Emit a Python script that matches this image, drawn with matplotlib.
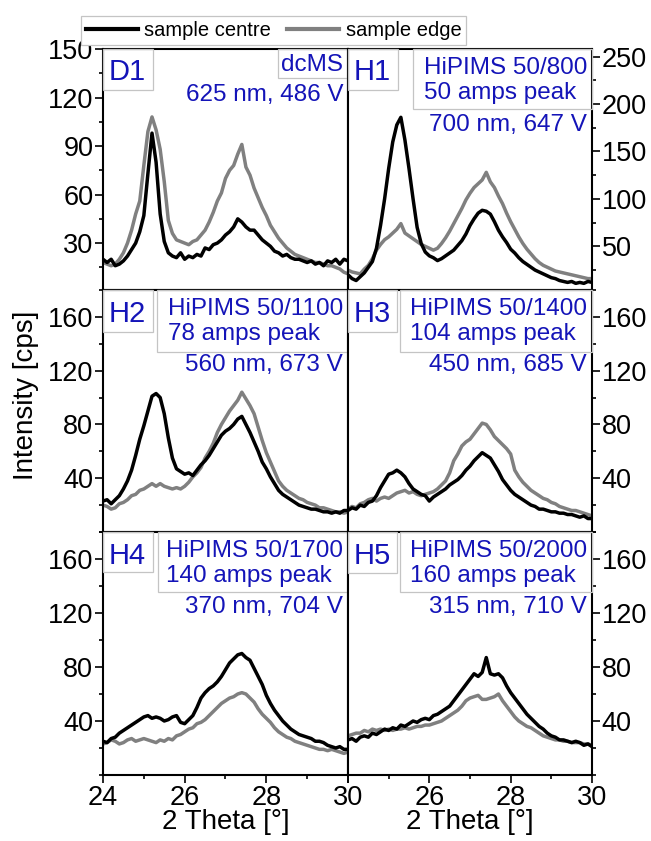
import matplotlib
matplotlib.use("Agg")
import matplotlib.pyplot as plt
from matplotlib.patches import Rectangle
from matplotlib.ticker import MultipleLocator, FixedLocator
import numpy as np

plt.rcParams['font.family'] = ['Liberation Sans', 'DejaVu Sans']

# ---------------- data ----------------
two_theta = np.round(np.arange(24.0, 30.0001, 0.1), 2)

d1_centre = [20, 18, 20, 16, 17, 19, 22, 26, 30, 37, 47, 73, 98, 80, 48, 31, 24, 22, 21, 24,
             20, 22, 21, 23, 22, 27, 26, 29, 30, 32, 35, 37, 40, 45, 43, 40, 38, 38, 35, 32,
             30, 28, 25, 24, 22, 23, 21, 20, 20, 19, 18, 19, 17, 18, 16, 19, 18, 20, 17, 20, 19]
d1_edge = [18, 17, 16, 17, 20, 24, 30, 38, 48, 56, 78, 99, 108, 100, 88, 68, 44, 36, 32, 31,
           30, 29, 31, 32, 35, 38, 43, 49, 56, 61, 70, 75, 78, 85, 91, 77, 72, 64, 58, 52,
           47, 41, 37, 33, 30, 27, 25, 23, 22, 21, 20, 19, 18, 18, 17, 16, 16, 15, 14, 12, 11]

h1_centre = [20, 16, 14, 18, 22, 28, 34, 48, 72, 100, 132, 160, 178, 186, 162, 132, 100, 70, 53, 44,
             40, 38, 35, 37, 40, 43, 46, 51, 56, 63, 72, 79, 85, 88, 87, 84, 76, 67, 60, 54,
             47, 43, 38, 34, 31, 28, 25, 23, 21, 19, 17, 16, 14, 13, 12, 13, 11, 12, 11, 13, 12]
h1_edge = [25, 23, 22, 21, 26, 30, 37, 46, 52, 57, 60, 64, 68, 74, 64, 61, 58, 55, 52, 50,
           48, 46, 48, 53, 59, 66, 74, 82, 90, 99, 106, 112, 116, 120, 128, 118, 112, 103, 95, 85,
           76, 68, 60, 53, 47, 42, 37, 33, 30, 28, 26, 24, 23, 22, 21, 20, 19, 18, 17, 16, 16]

h2_centre = [23, 24, 21, 24, 27, 32, 38, 46, 57, 69, 79, 90, 101, 103, 100, 88, 70, 55, 47, 45,
             43, 44, 42, 46, 50, 53, 57, 62, 67, 72, 75, 77, 80, 84, 86, 80, 74, 67, 60, 52,
             47, 41, 36, 31, 28, 26, 24, 22, 20, 19, 18, 17, 17, 16, 15, 15, 14, 15, 14, 16, 16]
h2_edge = [20, 19, 17, 18, 21, 22, 24, 27, 28, 31, 32, 34, 36, 34, 36, 34, 33, 32, 33, 32,
           34, 37, 41, 44, 48, 55, 60, 66, 74, 80, 85, 90, 94, 98, 104, 99, 94, 88, 78, 68,
           59, 52, 45, 38, 34, 31, 29, 27, 25, 24, 22, 21, 20, 18, 18, 17, 16, 15, 15, 14, 15]

h3_centre = [16, 18, 17, 20, 19, 22, 23, 27, 33, 38, 43, 44, 46, 44, 41, 36, 32, 30, 28, 27,
             23, 26, 28, 30, 32, 35, 37, 39, 42, 46, 49, 53, 56, 59, 57, 55, 50, 45, 39, 35,
             31, 28, 26, 24, 22, 20, 19, 17, 17, 16, 15, 15, 14, 14, 13, 13, 12, 11, 12, 10, 10]
h3_edge = [17, 19, 18, 21, 22, 24, 25, 23, 25, 26, 25, 27, 29, 30, 31, 29, 30, 28, 27, 28,
           29, 30, 32, 35, 38, 44, 53, 58, 64, 67, 69, 73, 77, 81, 80, 76, 71, 68, 65, 62,
           58, 46, 41, 37, 34, 31, 29, 27, 25, 24, 22, 21, 19, 18, 17, 16, 16, 15, 14, 13, 12]

h4_centre = [25, 24, 27, 28, 31, 33, 35, 37, 39, 41, 43, 44, 42, 43, 42, 40, 41, 43, 44, 39,
             38, 41, 44, 50, 57, 61, 64, 66, 69, 73, 78, 83, 86, 89, 90, 87, 85, 79, 73, 67,
             59, 53, 48, 44, 40, 37, 34, 32, 30, 29, 28, 27, 25, 25, 24, 22, 21, 20, 21, 19, 19]
h4_edge = [23, 24, 26, 25, 23, 24, 26, 27, 25, 26, 27, 26, 25, 24, 26, 25, 27, 26, 29, 30,
           32, 34, 35, 38, 39, 41, 44, 47, 50, 53, 55, 57, 58, 60, 61, 60, 57, 54, 49, 45,
           42, 39, 35, 32, 30, 28, 27, 25, 24, 23, 22, 21, 20, 19, 19, 18, 19, 18, 17, 16, 17]

h5_centre = [26, 27, 25, 28, 29, 28, 31, 30, 32, 34, 33, 35, 34, 37, 36, 38, 40, 39, 41, 42,
             41, 44, 45, 47, 49, 51, 55, 59, 63, 67, 71, 75, 73, 76, 87, 75, 74, 75, 72, 66,
             61, 57, 53, 49, 45, 42, 39, 36, 34, 31, 29, 28, 26, 26, 25, 24, 25, 24, 22, 23, 21]
h5_edge = [29, 30, 31, 31, 33, 32, 34, 33, 34, 33, 34, 33, 34, 34, 35, 34, 35, 36, 36, 37,
           37, 38, 39, 40, 42, 44, 46, 48, 51, 55, 57, 58, 59, 56, 56, 57, 58, 60, 55, 51,
           47, 43, 40, 38, 36, 35, 33, 31, 29, 28, 27, 26, 26, 25, 25, 24, 24, 24, 23, 23, 22]

panel_ids = ["D1", "H1", "H2", "H3", "H4", "H5"]
boxed_text = ["dcMS", "HiPIMS 50/800\n50 amps peak", "HiPIMS 50/1100\n78 amps peak",
              "HiPIMS 50/1400\n104 amps peak", "HiPIMS 50/1700\n140 amps peak",
              "HiPIMS 50/2000\n160 amps peak"]
extra_text = ["625 nm, 486 V", "700 nm, 647 V", "560 nm, 673 V", "450 nm, 685 V",
              "370 nm, 704 V", "315 nm, 710 V"]
centre_series = [d1_centre, h1_centre, h2_centre, h3_centre, h4_centre, h5_centre]
edge_series = [d1_edge, h1_edge, h2_edge, h3_edge, h4_edge, h5_edge]
y_limits = [(1, 150), (4, 258), (0, 180), (0, 180), (0, 180), (0, 180)]
y_major = [[30, 60, 90, 120, 150], [50, 100, 150, 200, 250], [40, 80, 120, 160],
           [40, 80, 120, 160], [40, 80, 120, 160], [40, 80, 120, 160]]
y_minor = [15, 25, 20, 20, 20, 20]
legend_labels = ["sample centre", "sample edge"]

# ---------------- layout ----------------
W, H = 651, 841
fig = plt.figure(figsize=(W / 100, H / 100), dpi=100)

col_x = [(103, 348), (348, 592)]
row_y = [(49, 290), (290, 532), (532, 775)]

BLUE = "#1414b8"
BOXC = "#c4c4c4"
GREY = "#808080"

lab_box_r = [152.5, 398, 152.5, 396.5, 152.5, 396.5]
lab_box_b = [90, 90, 331.5, 331.5, 572, 572.5]
txt_box_l = [277.5, 412.5, 156.5, 400, 157.5, 400]
txt_box_b = [78, 109, 351.5, 351.5, 591.5, 591.5]

axes = []
for i in range(6):
    r, c = divmod(i, 2)
    x0, x1 = col_x[c]
    y0, y1 = row_y[r]
    ax = fig.add_axes([x0 / W, 1 - y1 / H, (x1 - x0) / W, (y1 - y0) / H])
    axes.append(ax)
    ax.plot(two_theta, centre_series[i], color="black", lw=2.5, zorder=3,
            label=legend_labels[0])
    ax.plot(two_theta, edge_series[i], color=GREY, lw=2.5, zorder=2,
            label=legend_labels[1])
    ax.set_xlim(24, 30)
    ax.set_ylim(*y_limits[i])
    ax.yaxis.set_major_locator(FixedLocator(y_major[i]))
    ax.yaxis.set_minor_locator(MultipleLocator(y_minor[i]))
    ax.xaxis.set_major_locator(MultipleLocator(2))
    ax.xaxis.set_minor_locator(MultipleLocator(1))
    for s in ax.spines.values():
        s.set_linewidth(1.5)
    if c == 0:
        ax.tick_params(axis='y', which='both', left=True, right=False, labelleft=True,
                       labelright=False, direction='out')
    else:
        ax.tick_params(axis='y', which='both', left=False, right=True, labelleft=False,
                       labelright=True, direction='out')
    ax.tick_params(axis='y', which='major', length=5.5, width=1.2, labelsize=19.5, pad=1.5)
    ax.tick_params(axis='y', which='minor', length=3, width=1.2)
    if r == 2:
        ax.tick_params(axis='x', which='both', bottom=True, top=False, labelbottom=True,
                       direction='out')
        ax.tick_params(axis='x', which='major', length=5.5, width=1.2, labelsize=19.5, pad=1.5)
        ax.tick_params(axis='x', which='minor', length=3, width=1.2)
        if c == 1:
            ax.set_xticks([24, 26, 28, 30])
            ax.set_xticklabels(["", "26", "28", "30"])
    else:
        ax.tick_params(axis='x', which='both', bottom=False, top=False, labelbottom=False)

    pw = x1 - x0
    ph = y1 - y0
    ax.add_patch(Rectangle((0, 1 - (lab_box_b[i] - y0) / ph), (lab_box_r[i] - x0) / pw,
                           (lab_box_b[i] - y0) / ph, transform=ax.transAxes,
                           fill=False, edgecolor=BOXC, lw=0.9, zorder=5, clip_on=False))
    ax.text(5.5 / pw, 1 - 23.5 / ph, panel_ids[i], transform=ax.transAxes, color=BLUE,
            fontsize=21, ha='left', va='center', zorder=6)
    ax.add_patch(Rectangle(((txt_box_l[i] - x0) / pw, 1 - (txt_box_b[i] - y0) / ph),
                           1 - (txt_box_l[i] - x0) / pw, (txt_box_b[i] - y0) / ph,
                           transform=ax.transAxes, fill=False, edgecolor=BOXC, lw=0.9,
                           zorder=5, clip_on=False))
    xr = 1 - 5 / pw
    if i == 0:
        ax.text(xr, 1 - 16 / ph, boxed_text[i], transform=ax.transAxes, color=BLUE,
                fontsize=17.5, ha='right', va='center', zorder=6)
        ax.text(xr, 1 - 45.5 / ph, extra_text[i], transform=ax.transAxes, color=BLUE,
                fontsize=17.5, ha='right', va='center', zorder=6)
    else:
        ax.text(xr, 1 - 31.5 / ph, boxed_text[i], transform=ax.transAxes, color=BLUE,
                fontsize=17.5, ha='right', va='center', multialignment='left',
                linespacing=1.2, zorder=6)
        ax.text(xr, 1 - 75.5 / ph, extra_text[i], transform=ax.transAxes, color=BLUE,
                fontsize=17.5, ha='right', va='center', zorder=6)

fig.text(26 / W, 1 - 395 / H, "Intensity [cps]", rotation=90, fontsize=20,
         ha='center', va='center')
fig.text(225.5 / W, 1 - 822 / H, "2 Theta [°]", fontsize=20, ha='center', va='center')
fig.text(470 / W, 1 - 822 / H, "2 Theta [°]", fontsize=20, ha='center', va='center')

handles, labels = axes[0].get_legend_handles_labels()
leg = fig.legend(handles, labels, loc='center', bbox_to_anchor=(273.5 / W, 1 - 30.5 / H),
                 ncol=2, fontsize=14.5, frameon=True, fancybox=False, edgecolor=BOXC,
                 framealpha=1, handlelength=2.6, handletextpad=0.3, columnspacing=0.8,
                 borderpad=0.25, borderaxespad=0)
leg.get_frame().set_linewidth(0.9)
for h in leg.legend_handles:
    h.set_linewidth(3)

fig.savefig("out.png", dpi=100)
